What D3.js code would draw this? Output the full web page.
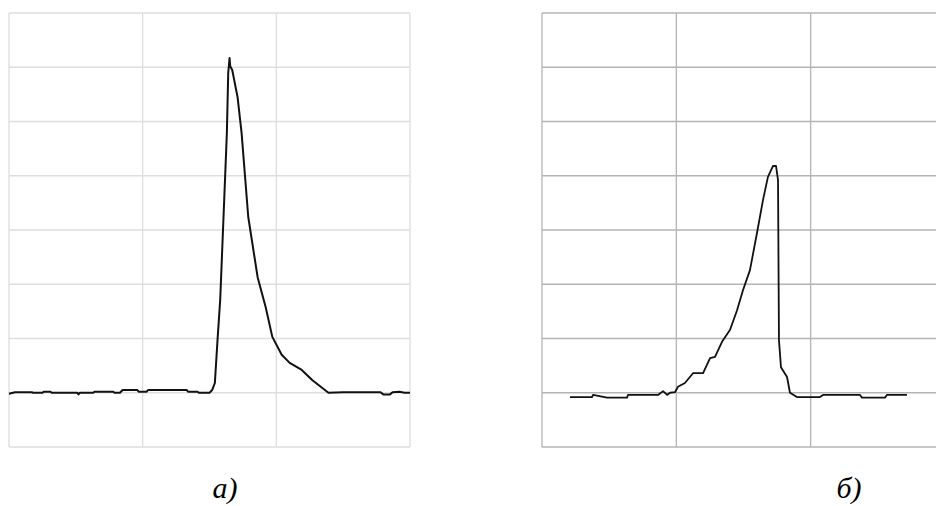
<!DOCTYPE html>
<html>
<head>
<meta charset="utf-8">
<script src="https://cdnjs.cloudflare.com/ajax/libs/d3/7.8.5/d3.min.js"></script>
<style>
  body { margin: 0; background: #fff; }
  svg { display: block; }
</style>
</head>
<body>
<div id="chart"></div>
<script>
// grid: 3 columns x 8 rows, arbitrary units
var xTicks = [0, 100, 200, 300];
var yTicks = [0, 10, 20, 30, 40, 50, 60, 70, 80];

// panel a) - sharp rise, slow decay
var seriesA_x = [0, 4.5, 17, 18, 25, 26, 31, 32, 51, 52, 53, 63, 64, 78, 79, 83, 85, 96, 97, 103, 104, 133, 134, 141, 142, 150,
  152, 154, 156, 158, 160, 163, 164, 165, 165.5, 167, 171, 174, 179, 186, 192, 197, 204, 210, 219, 227, 239,
  250, 278, 280, 285, 287, 292, 296, 300];
var seriesA_y = [9.8, 10.1, 10.1, 10.0, 10.0, 10.2, 10.2, 10.0, 10.0, 9.7, 10.0, 10.0, 10.2, 10.2, 10.0, 10.0, 10.5, 10.5, 10.2, 10.2, 10.5, 10.5, 10.2, 10.2, 10.0, 10.0,
  10.5, 11.8, 19.7, 27.1, 39.4, 57.9, 68.9, 71.7, 70.2, 69.5, 64.5, 57.9, 42.4, 31.3, 25.8, 20.3, 17.0, 15.5, 14.2, 12.3, 10.0,
  10.1, 10.1, 9.7, 9.7, 10.1, 10.2, 10.0, 10.0];

// panel б) - slow rise, sharp drop
var seriesB_x = [20.8, 37.2, 38, 48.4, 63.3, 64, 86.4, 90.1, 93.1, 95.3, 99, 101.2, 106.4, 112.4, 119.9, 125.1, 128.8,
  134, 140, 145.2, 149.6, 154.8, 160, 164.5, 168.2, 172, 174.2, 175.7, 176.4, 177.9, 182.4, 184.6, 189.8,
  206.9, 209.2, 236.7, 238.2, 255.3, 256.8, 271.7];
var seriesB_y = [9.2, 9.2, 9.6, 9.1, 9.1, 9.6, 9.6, 10.3, 9.6, 10.0, 10.1, 11.1, 11.8, 13.6, 13.6, 16.4, 16.6,
  19.4, 21.6, 25.2, 28.9, 32.6, 39.4, 45.5, 49.8, 51.8, 51.8, 49.2, 19.7, 14.7, 12.9, 10.0, 9.2,
  9.2, 9.6, 9.6, 9.1, 9.1, 9.6, 9.6];

var labels = ["а)", "б)"];

var width = 936, height = 506;
var svg = d3.select("#chart").append("svg")
  .attr("width", width)
  .attr("height", height);

var panels = [
  { x0: 9, x1: 410, grid: "#dedede", lw: 2, xs: seriesA_x, ys: seriesA_y, label: labels[0], lx: 225 },
  { x0: 542, x1: 945, grid: "#b4b4b4", lw: 1.8, xs: seriesB_x, ys: seriesB_y, label: labels[1], lx: 849 }
];

panels.forEach(function(p) {
  var x = d3.scaleLinear().domain([0, 300]).range([p.x0, p.x1]);
  var y = d3.scaleLinear().domain([0, 80]).range([447, 13]);

  var g = svg.append("g");

  //grid lines
  g.selectAll(".vline")
    .data(xTicks)
    .enter().append("line")
    .attr("x1", function(d) { return x(d); })
    .attr("x2", function(d) { return x(d); })
    .attr("y1", y(0))
    .attr("y2", y(80))
    .style("stroke", p.grid)
    .style("stroke-width", 1.3);
  g.selectAll(".hline")
    .data(yTicks)
    .enter().append("line")
    .attr("x1", x(0))
    .attr("x2", x(300))
    .attr("y1", function(d) { return y(d); })
    .attr("y2", function(d) { return y(d); })
    .style("stroke", p.grid)
    .style("stroke-width", 1.3);

  var pts = p.xs.map(function(v, i) { return [v, p.ys[i]]; });
  var line = d3.line()
    .x(function(d) { return x(d[0]); })
    .y(function(d) { return y(d[1]); });

  g.append("path")
    .datum(pts)
    .attr("d", line)
    .style("fill", "none")
    .style("stroke", "#111")
    .style("stroke-width", p.lw)
    .style("stroke-linejoin", "round");

  g.append("text")
    .attr("x", p.lx)
    .attr("y", 498)
    .attr("text-anchor", "middle")
    .style("font-family", "'Liberation Serif', 'Times New Roman', serif")
    .style("font-style", "italic")
    .style("font-size", "30px")
    .style("fill", "#000")
    .text(p.label);
});
</script>
</body>
</html>
